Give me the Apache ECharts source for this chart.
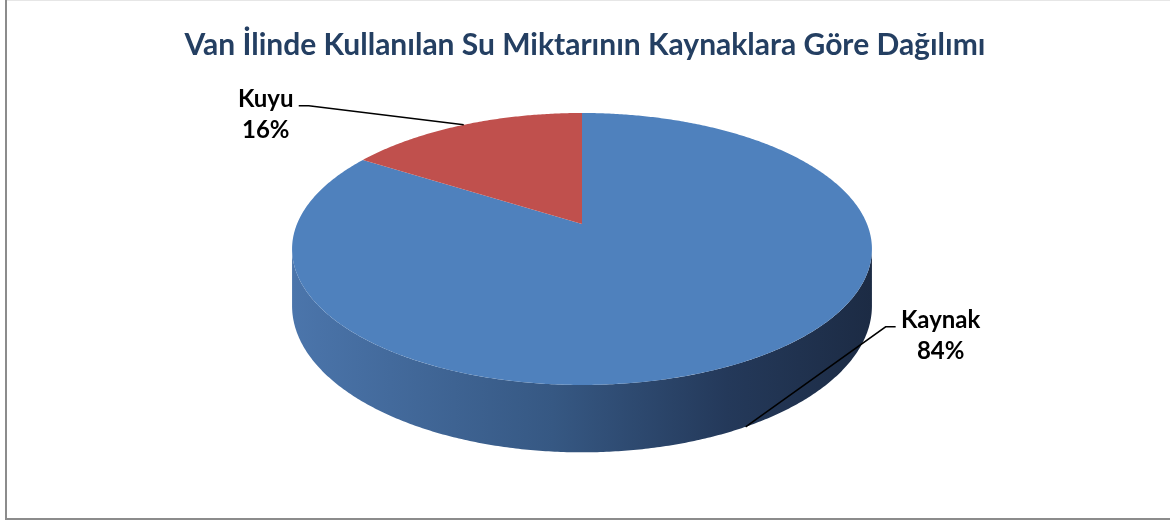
<!DOCTYPE html>
<html>
<head>
<meta charset="utf-8">
<script src="https://cdn.jsdelivr.net/npm/echarts@6/dist/echarts.min.js"></script>
<style>
html,body{margin:0;padding:0;background:#fff;}
#c{width:1170px;height:521px;}
</style>
</head>
<body>
<div id="c"></div>
<script>
// ---- data ----
const titleText = 'Van İlinde Kullanılan Su Miktarının Kaynaklara Göre Dağılımı';
const categories = ['Kaynak', 'Kuyu'];
const values = [84, 16];

// ---- styling / geometry ----
const colors = ['#4F81BD', '#C0504D'];
const G = { cx: 582, cy: 224, a: 285, b: 131.4, k: 0.1837, t: 55 };
// label leader offsets relative to the slice anchor point
const labelLayout = [
  { elbow: [140, -100], end: [150, -100], text: [195, -91] },
  { elbow: [-155, -19], end: [-165, -19], text: [-198, -10] }
];

const total = values.reduce((s, v) => s + v, 0);

function project(theta, drop) {
  const r = theta * Math.PI / 180;
  const u = Math.sin(r), v = -Math.cos(r);
  const d = 1 - G.k * v;
  return [G.cx + G.a * u / d, G.cy + G.b * v / d + (drop ? G.t / d : 0)];
}
function arc(s, e, drop) {
  const pts = [];
  const n = Math.max(2, Math.ceil(Math.abs(e - s) * 2));
  for (let i = 0; i <= n; i++) pts.push(project(s + (e - s) * i / n, drop));
  return pts;
}

const visLo = Math.acos(-G.k) * 180 / Math.PI;
const visHi = 360 - visLo;
const wx = G.a / Math.sqrt(1 - G.k * G.k);

function renderItem(params, api) {
  const i = params.dataIndex;
  let start = 0;
  for (let j = 0; j < i; j++) start += values[j] / total * 360;
  const end = start + api.value(0) / total * 360;
  const children = [];
  const lo = Math.max(start, visLo), hi = Math.min(end, visHi);
  if (lo < hi) {
    const pts = arc(lo, hi, false).concat(arc(hi, lo, true));
    children.push({
      type: 'polygon',
      shape: { points: pts },
      style: {
        fill: new echarts.graphic.LinearGradient(G.cx - wx, 0, G.cx + wx, 0, [
          { offset: 0, color: '#4B75AB' },
          { offset: 0.45, color: '#365883' },
          { offset: 0.75, color: '#24395A' },
          { offset: 1, color: '#1C2B44' }
        ], true)
      }
    });
  }
  children.push({
    type: 'polygon',
    shape: { points: [[G.cx, G.cy]].concat(arc(start, end, false)) },
    style: { fill: colors[i] }
  });
  // label
  const mid = (start + end) / 2;
  const rad = mid * Math.PI / 180;
  const front = -Math.cos(rad) > 0;
  const anchor = project(mid, front);
  const L = labelLayout[i];
  children.push({
    type: 'polyline',
    shape: { points: [anchor, [anchor[0] + L.elbow[0], anchor[1] + L.elbow[1]], [anchor[0] + L.end[0], anchor[1] + L.end[1]]] },
    style: { stroke: '#000', lineWidth: 1.5, fill: null }
  });
  children.push({
    type: 'text',
    style: {
      text: categories[i] + '\n' + Math.round(api.value(0) / total * 100) + '%',
      x: anchor[0] + L.text[0], y: anchor[1] + L.text[1],
      align: 'center', verticalAlign: 'middle',
      fontFamily: 'Lato', fontWeight: 'bold', fontSize: 24, lineHeight: 31,
      fill: '#000'
    }
  });
  return { type: 'group', children: children };
}

const chart = echarts.init(document.getElementById('c'), null, { renderer: 'canvas' });
chart.setOption({
  animation: false,
  backgroundColor: '#fff',
  title: {
    text: titleText, left: 'center', top: 25,
    textStyle: { fontFamily: 'Lato', fontWeight: 'bold', fontSize: 30, color: '#243F62' }
  },
  graphic: [
    { type: 'line', shape: { x1: 6, y1: 0.5, x2: 1170, y2: 0.5 }, style: { stroke: '#e6e6e6', lineWidth: 1 } },
    { type: 'line', shape: { x1: 6, y1: 0, x2: 6, y2: 520 }, style: { stroke: '#8c8c8c', lineWidth: 2 } },
    { type: 'line', shape: { x1: 5, y1: 519, x2: 1170, y2: 519 }, style: { stroke: '#8c8c8c', lineWidth: 2 } }
  ],
  series: [{
    type: 'custom',
    coordinateSystem: 'none',
    renderItem: renderItem,
    data: values.map((v, i) => ({ name: categories[i], value: v }))
  }]
});
</script>
</body>
</html>
